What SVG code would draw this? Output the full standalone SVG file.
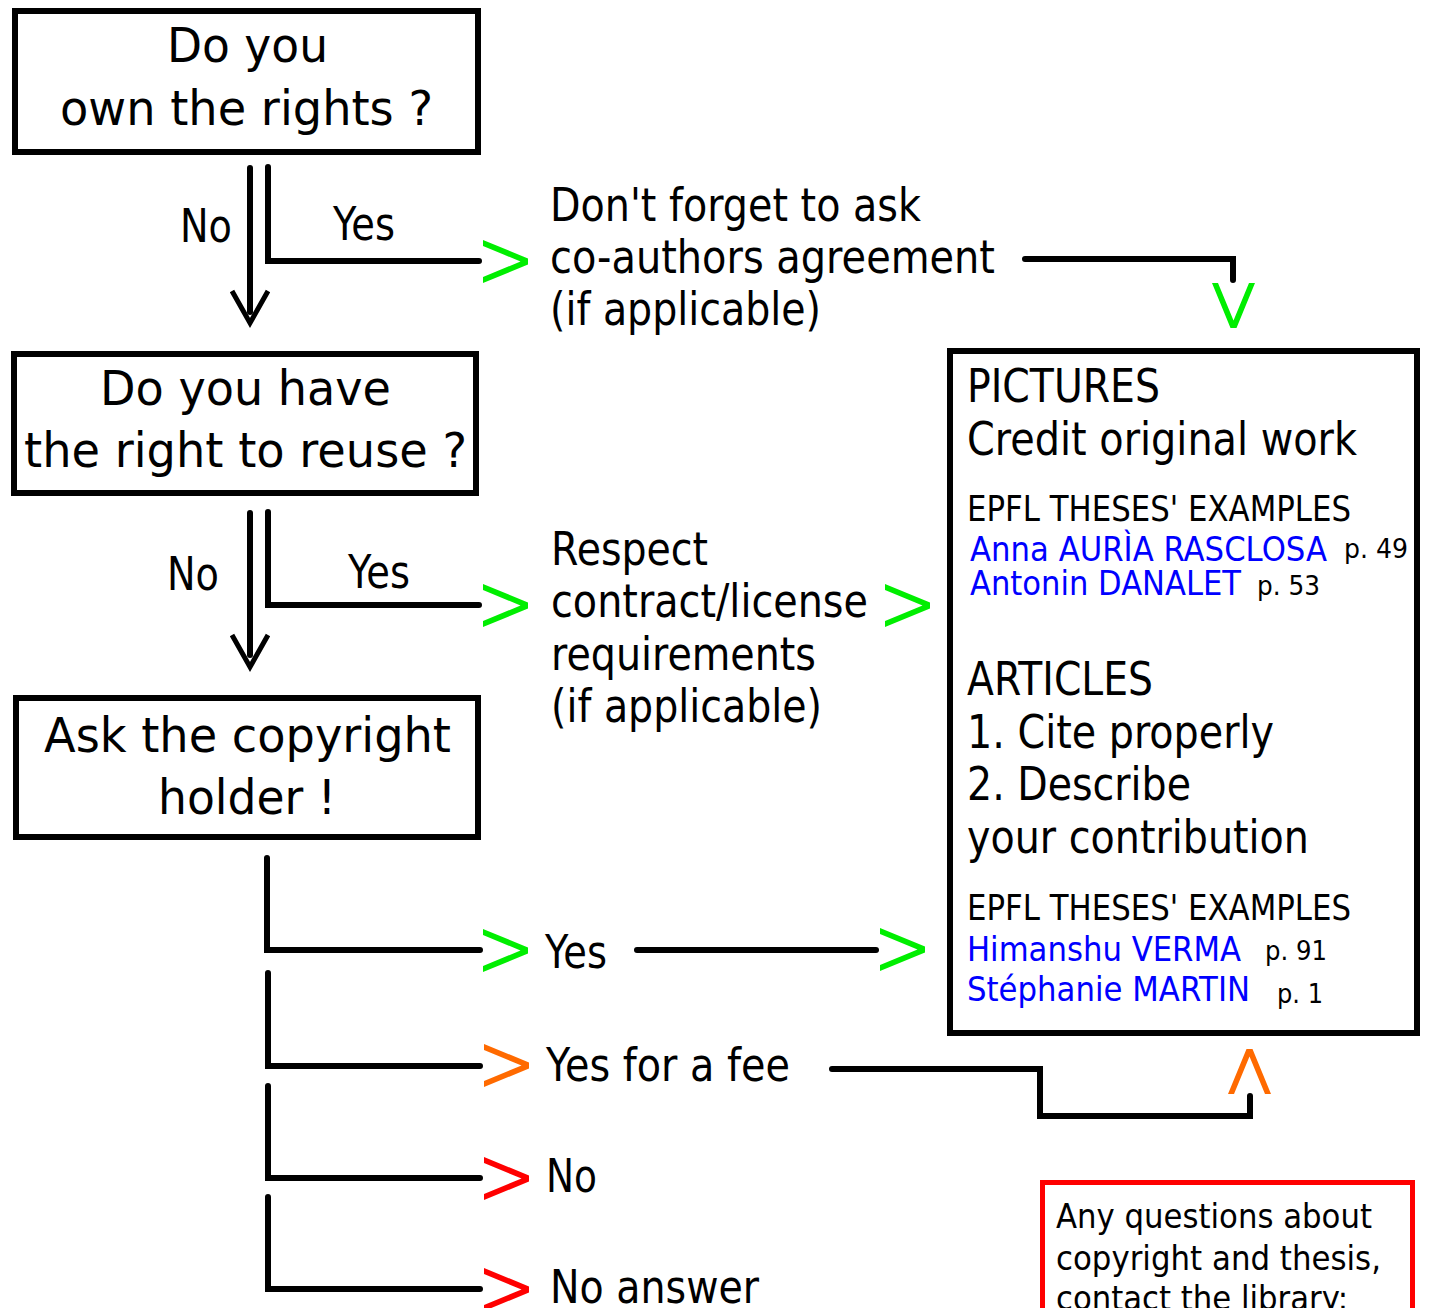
<svg xmlns="http://www.w3.org/2000/svg" width="1431" height="1308" viewBox="0 0 1431 1308">
<style>
text{font-family:"DejaVu Sans","Liberation Sans",sans-serif;fill:#000}
.big{font-size:48px}
.mid{font-size:46px}
.sm{font-size:35px}
.nm{font-size:33px;fill:#0000ff}
.pg{font-size:27px}
.q{font-size:33px}
.box{fill:#fff;stroke:#000;stroke-width:6}
.ln{fill:none;stroke:#000;stroke-width:6;stroke-linecap:round;stroke-linejoin:miter}
.vk{fill:none;stroke:#000;stroke-width:5;stroke-linejoin:miter;stroke-miterlimit:10}
.g{fill:#00ee00}.o{fill:#ff6a00}.r{fill:#ff0000}
</style>
<defs>
<path id="chev" d="M0 0L45 18.5V24.5L0 43V37L37.5 21.5L0 6Z"/>
</defs>
<rect width="1431" height="1308" fill="#fff"/>
<g id="connectors">
<path class="ln" d="M250 168V312"/>
<path class="ln" d="M268 167V261H479"/>
<path class="ln" d="M1025 259H1233V280"/>
<path class="ln" d="M250 513V655"/>
<path class="ln" d="M268 512V605H479"/>
<path class="ln" d="M267 858V950H480"/>
<path class="ln" d="M637 950H876"/>
<path class="ln" d="M268 973V1066H480"/>
<path class="ln" d="M832 1069H1040V1116H1250V1096"/>
<path class="ln" d="M268 1086V1178H480"/>
<path class="ln" d="M268 1197V1289H480"/>
<polyline class="vk" points="232,291 250,323 268,291"/>
<polyline class="vk" points="232,635 250,667 268,635"/>
<use href="#chev" class="g" transform="translate(483,240)"/>
<use href="#chev" class="g" transform="translate(483,584)"/>
<use href="#chev" class="g" transform="translate(885,584)"/>
<use href="#chev" class="g" transform="translate(483,929)"/>
<use href="#chev" class="g" transform="translate(880,928)"/>
<use href="#chev" class="o" transform="translate(484,1044)"/>
<use href="#chev" class="r" transform="translate(484,1157)"/>
<use href="#chev" class="r" transform="translate(484,1268)"/>
<use href="#chev" class="g" transform="translate(1255,283) rotate(90)"/>
<use href="#chev" class="o" transform="translate(1228,1094) rotate(-90)"/>
</g>
<g id="n1">
<rect class="box" x="15" y="11" width="463" height="141"/>
<text class="big" x="167" y="62" textLength="161" lengthAdjust="spacingAndGlyphs">Do you</text>
<text class="big" x="60" y="125" textLength="373" lengthAdjust="spacingAndGlyphs">own the rights ?</text>
</g>
<g id="lbl1">
<text class="mid" x="180" y="242" textLength="52" lengthAdjust="spacingAndGlyphs">No</text>
<text class="mid" x="333" y="240" textLength="62" lengthAdjust="spacingAndGlyphs">Yes</text>
</g>
<g id="n2">
<text class="mid" x="550" y="221" textLength="371" lengthAdjust="spacingAndGlyphs">Don't forget to ask</text>
<text class="mid" x="550" y="273" textLength="445" lengthAdjust="spacingAndGlyphs">co-authors agreement</text>
<text class="mid" x="550" y="325" textLength="271" lengthAdjust="spacingAndGlyphs">(if applicable)</text>
</g>
<g id="n3">
<rect class="box" x="14" y="354" width="462" height="139"/>
<text class="big" x="100" y="405" textLength="291" lengthAdjust="spacingAndGlyphs">Do you have</text>
<text class="big" x="24" y="467" textLength="443" lengthAdjust="spacingAndGlyphs">the right to reuse ?</text>
</g>
<g id="lbl2">
<text class="mid" x="167" y="590" textLength="52" lengthAdjust="spacingAndGlyphs">No</text>
<text class="mid" x="348" y="588" textLength="62" lengthAdjust="spacingAndGlyphs">Yes</text>
</g>
<g id="n4">
<text class="mid" x="551" y="565" textLength="157" lengthAdjust="spacingAndGlyphs">Respect</text>
<text class="mid" x="551" y="617" textLength="317" lengthAdjust="spacingAndGlyphs">contract/license</text>
<text class="mid" x="551" y="670" textLength="265" lengthAdjust="spacingAndGlyphs">requirements</text>
<text class="mid" x="551" y="722" textLength="271" lengthAdjust="spacingAndGlyphs">(if applicable)</text>
</g>
<g id="n5">
<rect class="box" x="16" y="698" width="462" height="139"/>
<text class="big" x="44" y="752" textLength="407" lengthAdjust="spacingAndGlyphs">Ask the copyright</text>
<text class="big" x="158" y="814" textLength="178" lengthAdjust="spacingAndGlyphs">holder !</text>
</g>
<g id="n6">
<rect class="box" x="950" y="351" width="467" height="682"/>
<text class="mid" x="967" y="402" textLength="193" lengthAdjust="spacingAndGlyphs">PICTURES</text>
<text class="mid" x="967" y="455" textLength="390" lengthAdjust="spacingAndGlyphs">Credit original work</text>
<text class="sm" x="967" y="521" textLength="384" lengthAdjust="spacingAndGlyphs">EPFL THESES' EXAMPLES</text>
<text class="nm" x="970" y="561" textLength="357" lengthAdjust="spacingAndGlyphs">Anna AURÌA RASCLOSA</text>
<text class="pg" x="1344" y="558" textLength="64" lengthAdjust="spacingAndGlyphs">p. 49</text>
<text class="nm" x="970" y="595" textLength="271" lengthAdjust="spacingAndGlyphs">Antonin DANALET</text>
<text class="pg" x="1257" y="595" textLength="63" lengthAdjust="spacingAndGlyphs">p. 53</text>
<text class="mid" x="967" y="695" textLength="186" lengthAdjust="spacingAndGlyphs">ARTICLES</text>
<text class="mid" x="967" y="748" textLength="307" lengthAdjust="spacingAndGlyphs">1. Cite properly</text>
<text class="mid" x="967" y="800" textLength="224" lengthAdjust="spacingAndGlyphs">2. Describe</text>
<text class="mid" x="967" y="853" textLength="342" lengthAdjust="spacingAndGlyphs">your contribution</text>
<text class="sm" x="967" y="920" textLength="384" lengthAdjust="spacingAndGlyphs">EPFL THESES' EXAMPLES</text>
<text class="nm" x="967" y="961" textLength="274" lengthAdjust="spacingAndGlyphs">Himanshu VERMA</text>
<text class="pg" x="1265" y="960" textLength="62" lengthAdjust="spacingAndGlyphs">p. 91</text>
<text class="nm" x="967" y="1001" textLength="283" lengthAdjust="spacingAndGlyphs">Stéphanie MARTIN</text>
<text class="pg" x="1277" y="1003" textLength="46" lengthAdjust="spacingAndGlyphs">p. 1</text>
</g>
<g id="n7"><text class="mid" x="545" y="968" textLength="62" lengthAdjust="spacingAndGlyphs">Yes</text></g>
<g id="n8"><text class="mid" x="546" y="1081" textLength="244" lengthAdjust="spacingAndGlyphs">Yes for a fee</text></g>
<g id="n9"><text class="mid" x="546" y="1192" textLength="51" lengthAdjust="spacingAndGlyphs">No</text></g>
<g id="n10"><text class="mid" x="550" y="1303" textLength="209" lengthAdjust="spacingAndGlyphs">No answer</text></g>
<g id="n11">
<rect x="1042.5" y="1182.5" width="370" height="200" fill="#fff" stroke="#ff0000" stroke-width="5"/>
<text class="q" x="1056" y="1228" textLength="316" lengthAdjust="spacingAndGlyphs">Any questions about</text>
<text class="q" x="1056" y="1270" textLength="325" lengthAdjust="spacingAndGlyphs">copyright and thesis,</text>
<text class="q" x="1056" y="1310" textLength="292" lengthAdjust="spacingAndGlyphs">contact the library:</text>
</g>
</svg>
